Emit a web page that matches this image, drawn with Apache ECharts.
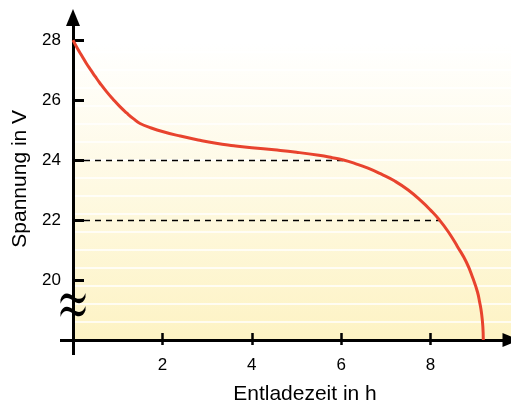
<!DOCTYPE html>
<html><head><meta charset="utf-8">
<script src="https://cdn.jsdelivr.net/npm/echarts@6/dist/echarts.min.js"></script>
<style>html,body{margin:0;padding:0;background:#fff}#c{width:511px;height:406px}</style>
</head><body><div id="c"></div>
<script>
// Data
const timeH = [0, 0.1, 0.2, 0.3, 0.4, 0.5, 0.6, 0.75, 0.9, 1.05, 1.2, 1.35, 1.5, 1.75, 2.0, 2.4, 2.8, 3.2, 3.6, 4.0, 4.5, 5.0, 5.5, 5.8, 6.05, 6.3, 6.6, 6.9, 7.2, 7.5, 7.8, 8.0, 8.2, 8.4, 8.6, 8.8, 8.95, 9.05, 9.1, 9.14, 9.17, 9.18];
const voltV = [28.0, 27.72, 27.47, 27.22, 27.0, 26.78, 26.57, 26.28, 26.02, 25.78, 25.57, 25.38, 25.22, 25.07, 24.95, 24.8, 24.67, 24.56, 24.48, 24.41, 24.34, 24.26, 24.16, 24.08, 24.0, 23.89, 23.73, 23.53, 23.3, 23.0, 22.62, 22.33, 22.0, 21.6, 21.12, 20.6, 20.05, 19.6, 19.25, 18.9, 18.45, 18.0];
const xTickLabels = [2, 4, 6, 8];
const yTickLabels = [20, 22, 24, 26, 28];
const refLevels = [24, 22];
const refTimes = [6.05, 8.2];
const breakValue = 19.17;

const X_MIN = 0, X_MAX = 9.8, Y_MIN = 18, Y_MAX = 28.75;
const STRIPE_SHIFT = 17.73, STRIPE_STEP = 0.6;
const FONT = 'Liberation Sans, Arial, sans-serif';
const black = '#000';
const BREAK_PATH = 'path://M0,7 C2,1 7,0 12,4 C17,8 22,7 24,1 L24,5 C22,11 17,12 12,8 C7,4 2,5 0,11 Z M0,19 C2,13 7,12 12,16 C17,20 22,19 24,13 L24,17 C22,23 17,24 12,20 C7,16 2,17 0,23 Z';

const chart = echarts.init(document.getElementById('c'), null, {renderer: 'canvas'});
const option = {
  animation: false,
  textStyle: {fontFamily: FONT},
  grid: {
    left: 73, right: 0, top: 17.6, bottom: 66,
    containLabel: false, outerBoundsMode: 'none',
    show: true, borderWidth: 0,
    backgroundColor: new echarts.graphic.LinearGradient(0, 0, 0, 1, [
      {offset: 0, color: '#ffffff'},
      {offset: 0.08, color: '#ffffff'},
      {offset: 1, color: '#fdf3c4'}
    ])
  },
  xAxis: [
    {
      type: 'value', min: X_MIN, max: X_MAX, position: 'bottom',
      axisLine: {show: true, onZero: false, lineStyle: {color: black, width: 3}, symbol: ['none', 'triangle'], symbolSize: [14, 17]},
      axisTick: {show: true, inside: false, length: 5, customValues: xTickLabels, lineStyle: {color: black, width: 2.5}},
      axisLabel: {show: true, customValues: xTickLabels, margin: 17, fontSize: 17, color: black, fontFamily: FONT},
      splitLine: {show: false},
      name: 'Entladezeit in h', nameLocation: 'middle', nameGap: 44,
      nameTextStyle: {fontSize: 21, color: black, fontFamily: FONT, padding: [0, 0, 0, 26]}
    },
    {
      type: 'value', min: X_MIN, max: X_MAX, position: 'bottom', offset: 0,
      axisLine: {show: false, onZero: false},
      axisTick: {show: true, inside: true, length: 7, customValues: xTickLabels, lineStyle: {color: black, width: 2.5}},
      axisLabel: {show: false}, splitLine: {show: false}
    },
    {
      type: 'value', min: X_MIN, max: X_MAX, position: 'bottom', offset: 0,
      axisLine: {show: false, onZero: false},
      axisTick: {show: true, inside: false, length: 15, customValues: [X_MIN], lineStyle: {color: black, width: 3}},
      axisLabel: {show: false}, splitLine: {show: false}
    }
  ],
  yAxis: [
    {
      type: 'value', min: Y_MIN, max: Y_MAX, position: 'left',
      axisLine: {show: true, onZero: false, lineStyle: {color: black, width: 3}, symbol: ['none', 'triangle'], symbolSize: [14, 17]},
      axisTick: {show: true, inside: true, length: 11, customValues: yTickLabels, lineStyle: {color: black, width: 3}},
      axisLabel: {show: true, customValues: yTickLabels, margin: 12, fontSize: 17, color: black, fontFamily: FONT},
      splitLine: {show: false},
      name: 'Spannung in V', nameLocation: 'middle', nameRotate: 90, nameGap: 36,
      nameTextStyle: {fontSize: 21, color: black, fontFamily: FONT}
    },
    {
      type: 'value', min: Y_MIN - STRIPE_SHIFT, max: Y_MAX - STRIPE_SHIFT, interval: STRIPE_STEP,
      position: 'left', offset: 0,
      axisLine: {show: false, onZero: false}, axisTick: {show: false}, axisLabel: {show: false},
      splitLine: {show: true, lineStyle: {color: '#ffffff', width: 1.5}}
    },
    {
      type: 'value', min: Y_MIN, max: Y_MAX, position: 'left', offset: 0,
      axisLine: {show: false, onZero: false},
      axisTick: {show: true, inside: false, length: 13, customValues: [Y_MIN], lineStyle: {color: black, width: 3}},
      axisLabel: {show: false}, splitLine: {show: false}
    }
  ],
  series: [{
    type: 'line',
    xAxisIndex: 0, yAxisIndex: 0,
    data: timeH.map((t, i) => [t, voltV[i]]),
    smooth: 0.5,
    symbol: 'none',
    clip: false,
    lineStyle: {color: '#e8432e', width: 3},
    z: 5,
    markLine: {
      silent: true, symbol: 'none', label: {show: false},
      lineStyle: {color: black, width: 1.3, type: [6, 5]},
      data: refLevels.map((v, i) => [{coord: [0, v]}, {coord: [refTimes[i], v]}])
    },
    markPoint: {
      silent: true,
      data: [{
        coord: [0, breakValue], symbol: BREAK_PATH, symbolSize: [25, 24],
        itemStyle: {color: black}, label: {show: false}
      }]
    }
  }]
};
chart.setOption(option);
</script>
</body></html>
